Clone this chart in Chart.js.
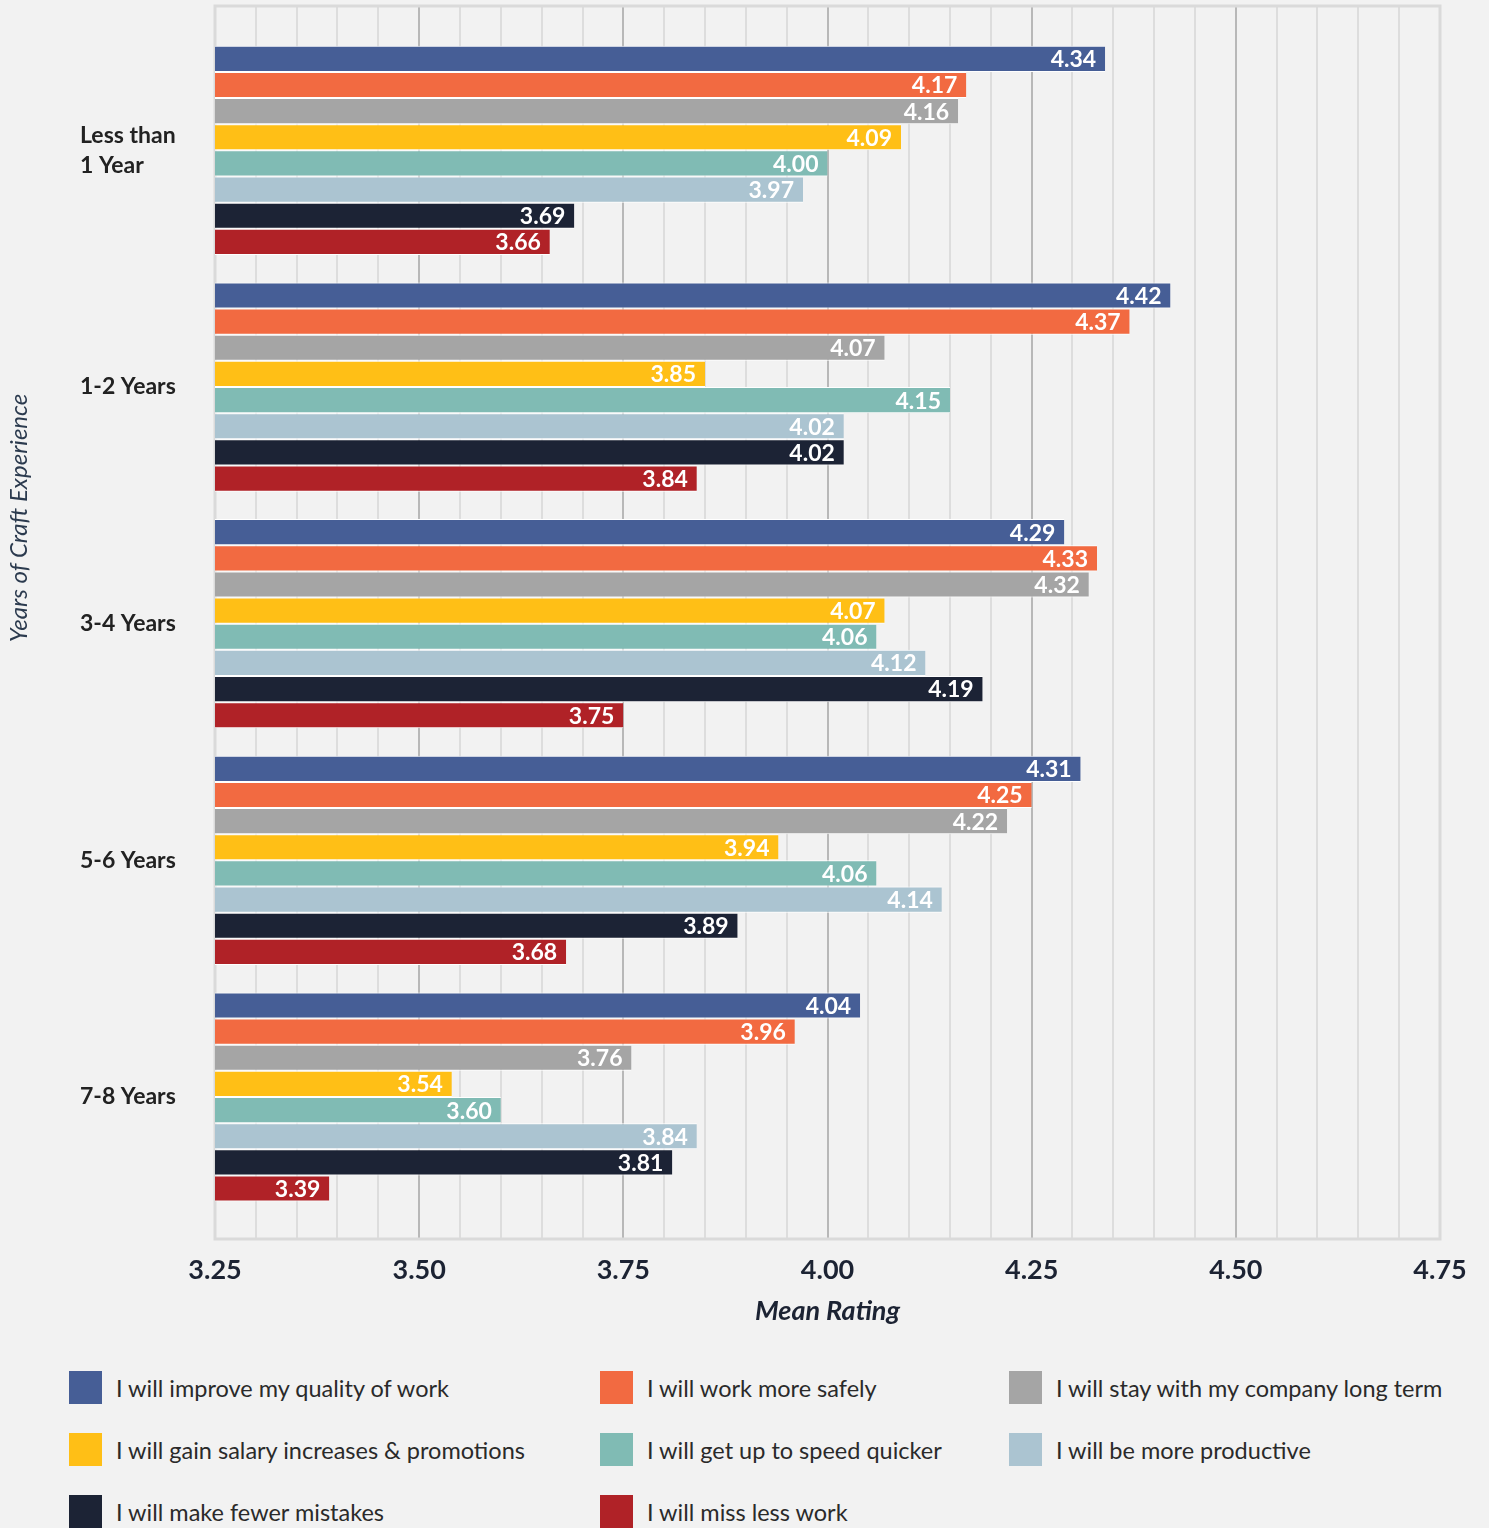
<!DOCTYPE html>
<html>
<head>
<meta charset="utf-8">
<script src="https://cdn.jsdelivr.net/npm/chart.js@4"></script>
<style>
  body { margin: 0; background: #f2f2f2; font-family: Lato, sans-serif; }
  #wrap { position: relative; width: 1489px; height: 1528px; }
  #legend .item { position: absolute; display: flex; align-items: center; font-size: 23.5px; color: #2a2a2a; }
  #legend .box { width: 33px; height: 33px; margin-right: 14px; }
</style>
</head>
<body>
<div id="wrap">
  <canvas id="chart" width="1489" height="1340"></canvas>
  <div id="legend"></div>
</div>
<script>
// categories, top to bottom
const categories = [['Less than', '1 Year'], '1-2 Years', '3-4 Years', '5-6 Years', '7-8 Years']

const series_names = [
  'I will improve my quality of work',
  'I will work more safely',
  'I will stay with my company long term',
  'I will gain salary increases & promotions',
  'I will get up to speed quicker',
  'I will be more productive',
  'I will make fewer mistakes',
  'I will miss less work'
]
const series_colors = ['#465e96', '#f26a41', '#a5a5a5', '#ffbf16', '#80bbb4', '#abc4d1', '#1c2335', '#b02227']

// values per series, one per category
const quality    = [4.34, 4.42, 4.29, 4.31, 4.04]
const safely     = [4.17, 4.37, 4.33, 4.25, 3.96]
const stay       = [4.16, 4.07, 4.32, 4.22, 3.76]
const salary     = [4.09, 3.85, 4.07, 3.94, 3.54]
const speed      = [4.00, 4.15, 4.06, 4.06, 3.60]
const productive = [3.97, 4.02, 4.12, 4.14, 3.84]
const mistakes   = [3.69, 4.02, 4.19, 3.89, 3.81]
const miss_less  = [3.66, 3.84, 3.75, 3.68, 3.39]

const series_values = [quality, safely, stay, salary, speed, productive, mistakes, miss_less]

const x_min = 3.25
const x_max = 4.75

function isMajor(v){
    return Math.abs(v * 4 - Math.round(v * 4)) < 1e-6
}

let datasets = []
for (let i = 0; i < series_names.length; i++) {
    datasets.push({
        label: series_names[i],
        data: series_values[i].map((v, j) => ({x: v, y: j})),
        backgroundColor: series_colors[i],
        borderColor: '#ffffff',
        borderWidth: {top: 1, bottom: 1, left: 0, right: 0},
        borderSkipped: false,
        categoryPercentage: 0.884,
        barPercentage: 1
    })
}

// bar value labels inside the bar end
const valueLabels = {
    id: 'valueLabels',
    afterDatasetsDraw(chart){
        const ctx = chart.ctx
        ctx.save()
        ctx.font = 'bold 23px Lato'
        ctx.fillStyle = '#ffffff'
        ctx.textAlign = 'right'
        ctx.textBaseline = 'middle'
        chart.data.datasets.forEach((ds, i) => {
            chart.getDatasetMeta(i).data.forEach((bar, j) => {
                ctx.fillText(ds.data[j].x.toFixed(2), bar.x - 9, bar.y + 1)
            })
        })
        ctx.restore()
    }
}

// light frame round the plot and the rotated y title
const frame = {
    id: 'frame',
    beforeDatasetsDraw(chart){
        const a = chart.chartArea
        const ctx = chart.ctx
        ctx.save()
        ctx.strokeStyle = '#dadada'
        ctx.lineWidth = 3
        ctx.strokeRect(a.left, a.top, a.right - a.left, a.bottom - a.top)
        ctx.restore()
    },
    afterDraw(chart){
        const ctx = chart.ctx
        ctx.save()
        ctx.translate(19, 518)
        ctx.rotate(-Math.PI / 2)
        ctx.font = 'italic 24px Lato'
        ctx.fillStyle = '#2b3a4e'
        ctx.textAlign = 'center'
        ctx.textBaseline = 'middle'
        ctx.fillText('Years of Craft Experience', 0, 0)
        ctx.restore()
    }
}

const chart = new Chart(document.getElementById('chart'), {
    type: 'bar',
    data: { datasets: datasets },
    plugins: [frame, valueLabels],
    options: {
        indexAxis: 'y',
        responsive: false,
        animation: false,
        layout: { padding: { left: 80, right: 49, top: 6, bottom: 13 } },
        plugins: {
            legend: { display: false },
            tooltip: { enabled: false }
        },
        scales: {
            x: {
                type: 'linear',
                min: x_min,
                max: x_max,
                border: { display: false },
                grid: {
                    drawTicks: false,
                    lineWidth: 2,
                    color: c => isMajor(c.tick.value) ? '#b8b8b8' : '#dddddd'
                },
                ticks: {
                    stepSize: 0.05,
                    autoSkip: false,
                    maxRotation: 0,
                    padding: 15,
                    color: '#1c2333',
                    font: { family: 'Lato', size: 27, weight: 'bold' },
                    callback: v => isMajor(v) ? v.toFixed(2) : ''
                },
                title: {
                    display: true,
                    text: 'Mean Rating',
                    color: '#1c2333',
                    padding: { top: 6, bottom: 0 },
                    font: { family: 'Lato', size: 27, weight: 'bold', style: 'italic' }
                },
                afterFit: s => { s.height = 88 }
            },
            y: {
                type: 'linear',
                reverse: true,
                offset: false,
                min: -0.61,
                max: 4.6,
                border: { display: false },
                grid: { display: false, offset: false },
                ticks: {
                    stepSize: 1,
                    includeBounds: false,
                    autoSkip: false,
                    crossAlign: 'far',
                    padding: 0,
                    color: '#222222',
                    font: { family: 'Lato', size: 23, weight: 'bold', lineHeight: 1.3 },
                    callback: v => Number.isInteger(v) && categories[v] !== undefined ? categories[v] : ''
                },
                afterFit: s => {
                    s.width = 135
                    s.paddingTop = 0
                    s.paddingBottom = 0
                }
            }
        }
    }
})

// html legend from the chart's own datasets, three columns
const legend_cols = [69, 600, 1009]
const legend_rows = [1371, 1433, 1495]
const legendEl = document.getElementById('legend')
chart.data.datasets.forEach((ds, i) => {
    const item = document.createElement('div')
    item.className = 'item'
    item.style.left = legend_cols[i % 3] + 'px'
    item.style.top = legend_rows[Math.floor(i / 3)] + 'px'
    item.innerHTML = '<span class="box" style="background:' + ds.backgroundColor + '"></span><span>' + ds.label + '</span>'
    legendEl.appendChild(item)
})
</script>
</body>
</html>
